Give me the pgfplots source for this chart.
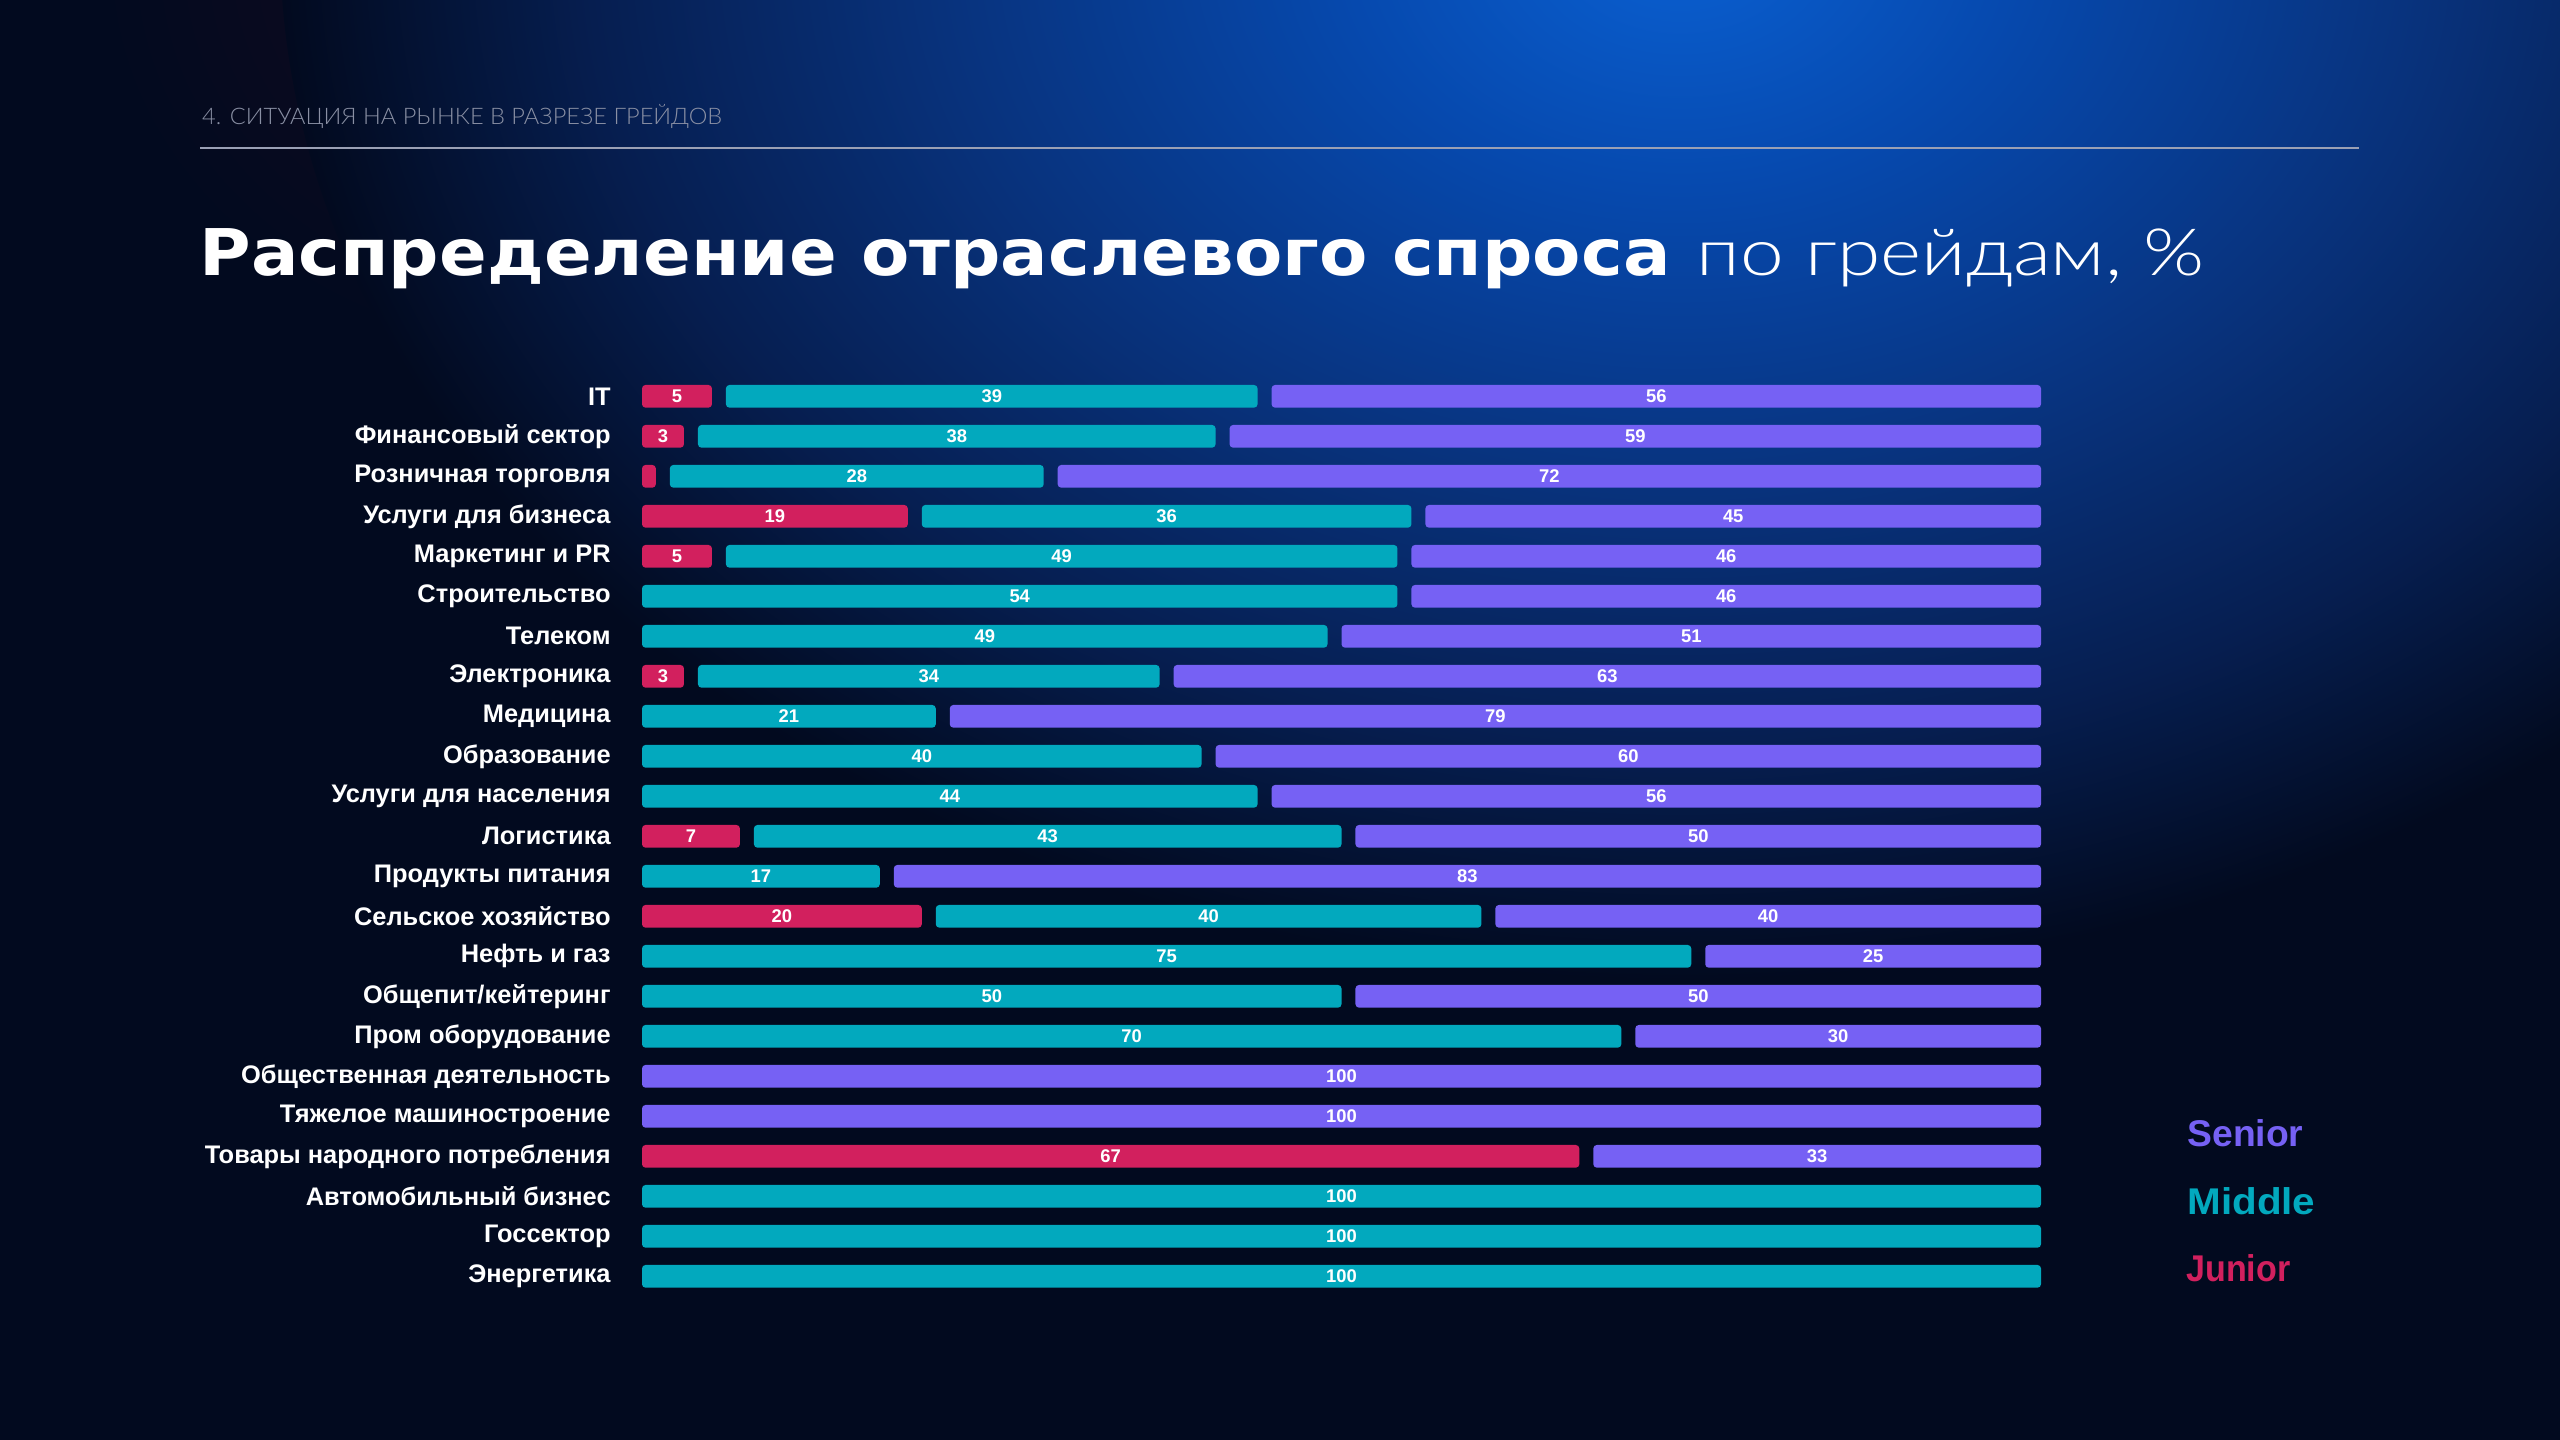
\documentclass[border=0pt]{standalone}
\usepackage{fontspec}
\usepackage{graphicx}
\usepackage{pgfplots}
\usepackage{pgfplotstable}
\pgfplotsset{compat=1.18}
\setmainfont{Liberation Sans}
\newfontfamily\dejavu{DejaVu Sans}
\IfFontExistsTF{Lato Light}{\newfontfamily\lightfont{Lato Light}}{\newfontfamily\lightfont{Liberation Sans}}

\definecolor{bgc}{HTML}{020A1F}
\definecolor{cjun}{HTML}{D2205E}
\definecolor{cmid}{HTML}{02A9BE}
\definecolor{csen}{HTML}{7661F4}
\definecolor{glowA}{HTML}{0A60D2}
\definecolor{glowB}{HTML}{0649AE}
\definecolor{glowC}{HTML}{08337E}
\definecolor{glowD}{HTML}{061E50}
\definecolor{hdr}{HTML}{8A90A4}
\definecolor{rule}{HTML}{9AA0B4}
\definecolor{warm}{HTML}{160B1E}

\pgfdeclareradialshading{glow}{\pgfpointorigin}{color(0bp)=(glowA); color(6bp)=(glowB); color(13bp)=(glowC); color(19.5bp)=(glowD); color(25bp)=(bgc); color(100bp)=(bgc)}
\pgfdeclareradialshading{warmglow}{\pgfpointorigin}{color(0bp)=(warm); color(25bp)=(bgc); color(100bp)=(bgc)}

\pgfplotstableread[col sep=semicolon]{
r;name;j;m;s
0;IT;5;39;56
1;Финансовый сектор;3;38;59
2;Розничная торговля;1;28;72
3;Услуги для бизнеса;19;36;45
4;Маркетинг и PR;5;49;46
5;Строительство;0;54;46
6;Телеком;0;49;51
7;Электроника;3;34;63
8;Медицина;0;21;79
9;Образование;0;40;60
10;Услуги для населения;0;44;56
11;Логистика;7;43;50
12;Продукты питания;0;17;83
13;Сельское хозяйство;20;40;40
14;Нефть и газ;0;75;25
15;Общепит/кейтеринг;0;50;50
16;Пром оборудование;0;70;30
17;Общественная деятельность;0;0;100
18;Тяжелое машиностроение;0;0;100
19;Товары народного потребления;67;0;33
20;Автомобильный бизнес;0;100;0
21;Госсектор;0;100;0
22;Энергетика;0;100;0
}\data

% gap between segments (in %), normalisation of each row to 100
\def\gp{1.0}
\def\Nk{(100/(\thisrow{j}+\thisrow{m}+\thisrow{s}))}
\def\GA{((\thisrow{j}>0)*(\thisrow{m}>0)*\gp)}
\def\GB{((\thisrow{s}>0)*((\thisrow{j}+\thisrow{m})>0)*\gp)}

\pgfplotsset{
  commonax/.style={
    at={(321pt,531.85pt)}, anchor=north west, scale only axis,
    width=699.5pt, height=460pt,
    xmin=0, xmax=100, ymin=-0.5, ymax=22.5, y dir=reverse,
  },
  lab/.style={draw=none, mark=none,
    point meta=explicit symbolic,
    nodes near coords={\ifnum\pgfplotspointmeta<2 \else\pgfplotspointmeta\fi},
    every node near coord/.append style={anchor=center, inner sep=0pt, text=white,
      font=\bfseries\fontsize{9.2pt}{10pt}\selectfont}},
}

\begin{document}
\begin{tikzpicture}
% background
\fill[bgc] (0,0) rectangle (1280pt,720pt);
\begin{scope}
\clip (0,0) rectangle (1280pt,720pt);
\shade[shading=warmglow] (290pt,740pt) ellipse [x radius=240pt, y radius=200pt];
\shade[shading=glow] (840pt,750pt) ellipse [x radius=700pt, y radius=520pt];
\end{scope}

% header
\node[anchor=base west, inner sep=0pt, text=hdr] at (100.9pt,657.5pt)
  {\resizebox{260pt}{\height}{\lightfont\fontsize{11.4pt}{13pt}\selectfont 4. СИТУАЦИЯ НА РЫНКЕ В РАЗРЕЗЕ ГРЕЙДОВ}};
\draw[rule, line width=0.8pt] (100pt,645.85pt) -- (1179.5pt,645.85pt);

% title
\node[anchor=base west, inner sep=0pt, text=white] at (99.5pt,582pt)
  {\resizebox{735.5pt}{\height}{\dejavu\bfseries\fontsize{32.2pt}{36pt}\selectfont Распределение отраслевого спроса}};
\node[anchor=base west, inner sep=0pt, text=white] at (848.25pt,582pt)
  {\resizebox{254pt}{\height}{\lightfont\fontsize{32.6pt}{36pt}\selectfont по грейдам, \%}};

% bars
\begin{axis}[commonax,
  xbar stacked, bar width=11.35pt,
  axis line style={draw=none}, xtick=\empty, tick style={draw=none},
  major tick length=0pt,
  ytick={0,...,22}, yticklabels from table={\data}{name},
  yticklabel style={font=\bfseries\fontsize{12.7pt}{14pt}\selectfont, text=white, inner sep=0pt, anchor=east, xshift=-15.5pt},
  every axis plot/.append style={draw=none, rounded corners=1.75pt},
]
\addplot[fill=cjun] table[x expr={\thisrow{j}*\Nk}, y expr={\thisrow{j}>0 ? \thisrow{r} : -50}] {\data};
\addplot[fill=none] table[x expr={\GA}, y expr={\thisrow{r}}] {\data};
\addplot[fill=cmid] table[x expr={\thisrow{m}*\Nk-\GA}, y expr={\thisrow{m}>0 ? \thisrow{r} : -50}] {\data};
\addplot[fill=none] table[x expr={\GB}, y expr={\thisrow{r}}] {\data};
\addplot[fill=csen] table[x expr={\thisrow{s}*\Nk-\GB}, y expr={\thisrow{s}>0 ? \thisrow{r} : -50}] {\data};
\end{axis}

% value labels
\begin{axis}[commonax, hide axis, clip=false]
\addplot[lab] table[x expr={\thisrow{j}*\Nk/2}, y=r, meta=j] {\data};
\addplot[lab] table[x expr={\thisrow{j}*\Nk+\GA+(\thisrow{m}*\Nk-\GA)/2}, y=r, meta=m] {\data};
\addplot[lab] table[x expr={(\thisrow{j}+\thisrow{m})*\Nk+\GB+(\thisrow{s}*\Nk-\GB)/2}, y=r, meta=s] {\data};
\end{axis}

% legend
\node[anchor=base west, inner sep=0pt, text=csen] at (1093.5pt,146.65pt)
  {\resizebox{58pt}{\height}{\bfseries\fontsize{18.6pt}{20pt}\selectfont Senior}};
\node[anchor=base west, inner sep=0pt, text=cmid] at (1093.5pt,112.85pt)
  {\resizebox{64pt}{\height}{\bfseries\fontsize{18.6pt}{20pt}\selectfont Middle}};
\node[anchor=base west, inner sep=0pt, text=cjun] at (1093pt,79.15pt)
  {\resizebox{52pt}{\height}{\bfseries\fontsize{18.6pt}{20pt}\selectfont Junior}};

\pgfresetboundingbox
\useasboundingbox (0,0) rectangle (1280pt,720pt);
\end{tikzpicture}
\end{document}
